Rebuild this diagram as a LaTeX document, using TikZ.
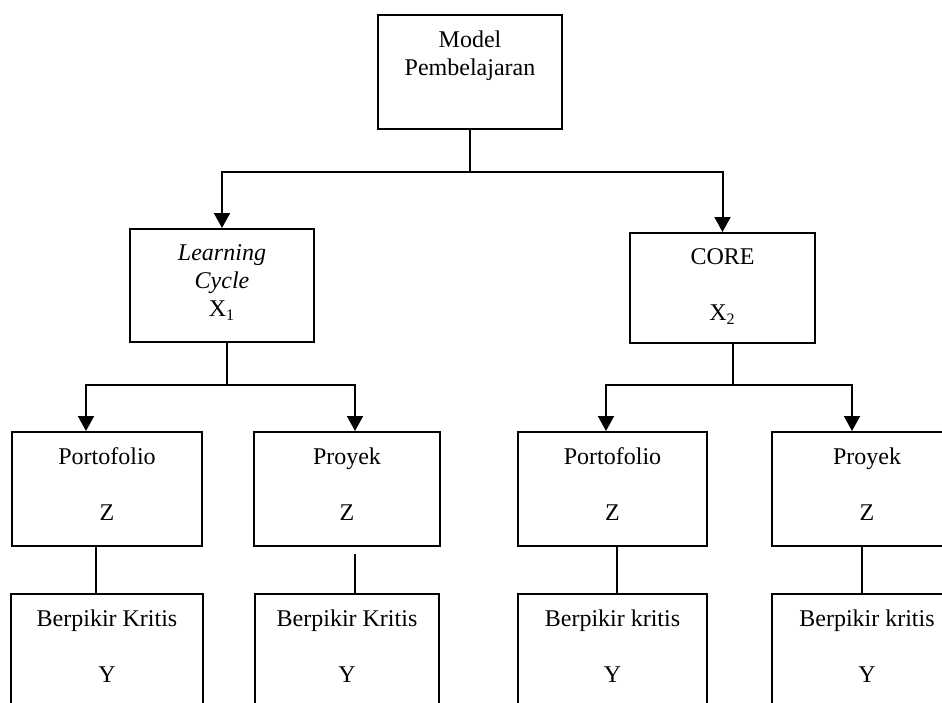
\documentclass[tikz,border=0pt]{standalone}
\usepackage{fontspec}
\setmainfont{Liberation Serif}
\usetikzlibrary{arrows.meta,positioning}

% box text: width, height, lines (set from the top of the box)
\newcommand{\boxtext}[3]{\parbox[c][#2][t]{#1}{\fontsize{12pt}{14pt}\selectfont\centering\vspace*{8pt}#3\par}}

\begin{document}
\begin{tikzpicture}[x=0.5pt,y=-0.5pt,
    box/.style={draw, line width=1pt, inner sep=0pt, anchor=north west},
    link/.style={line width=1pt},
    arrow/.style={line width=1pt, -{Triangle[width=8pt,length=7.5pt]}}
    ]
    \clip (0,0) rectangle (942,702);

    \node[box] (m_0) at (377,14) {\boxtext{92pt}{57pt}{Model\\Pembelajaran}};

    \node[box] (x_1) at (129,228) {\boxtext{92pt}{56.5pt}{\textit{Learning}\\\textit{Cycle}\\X\textsubscript{1}}};
    \node[box] (x_2) at (629,232) {\boxtext{92.5pt}{55pt}{CORE\\[14pt]X\textsubscript{2}}};

    \node[box] (z_1) at (11,431) {\boxtext{95pt}{57pt}{Portofolio\\[14pt]Z}};
    \node[box] (z_2) at (253,431) {\boxtext{93pt}{57pt}{Proyek\\[14pt]Z}};
    \node[box] (z_3) at (517,431) {\boxtext{94.5pt}{57pt}{Portofolio\\[14pt]Z}};
    \node[box] (z_4) at (771,431) {\boxtext{95pt}{57pt}{Proyek\\[14pt]Z}};

    \node[box] (y_1) [below=23pt of z_1] {\boxtext{96pt}{57pt}{Berpikir Kritis\\[14pt]Y}};
    \node[box] (y_2) [below=23pt of z_2] {\boxtext{92pt}{57pt}{Berpikir Kritis\\[14pt]Y}};
    \node[box] (y_3) [below=23pt of z_3] {\boxtext{94.5pt}{57pt}{Berpikir kritis\\[14pt]Y}};
    \node[box] (y_4) [below=23pt of z_4] {\boxtext{95pt}{57pt}{Berpikir kritis\\[14pt]Y}};

    \draw[link] (m_0.south) -- ++(0,42) coordinate (c_0);
    \draw[arrow] (c_0) -| (x_1.north);
    \draw[arrow] (c_0) -| (x_2.north);

    \draw[link] ([xshift=2.5pt]x_1.south) -- ++(0,42) coordinate (c_1);
    \draw[arrow] (c_1) -| ([xshift=-10.5pt]z_1.north);
    \draw[arrow] (c_1) -| ([xshift=4pt]z_2.north);

    \draw[link] ([xshift=5.25pt]x_2.south) -- ++(0,41) coordinate (c_2);
    \draw[arrow] (c_2) -| ([xshift=-3.25pt]z_3.north);
    \draw[arrow] (c_2) -| ([xshift=-7.5pt]z_4.north);

    \draw[link] ([xshift=-5.5pt]z_1.south) -- ++(0,46);
    \draw[link] ([xshift=4pt,yshift=-3.5pt]z_2.south) -- ++(0,39);
    \draw[link] ([xshift=2.25pt]z_3.south) -- ++(0,46);
    \draw[link] ([xshift=-2.5pt]z_4.south) -- ++(0,46);
\end{tikzpicture}
\end{document}
